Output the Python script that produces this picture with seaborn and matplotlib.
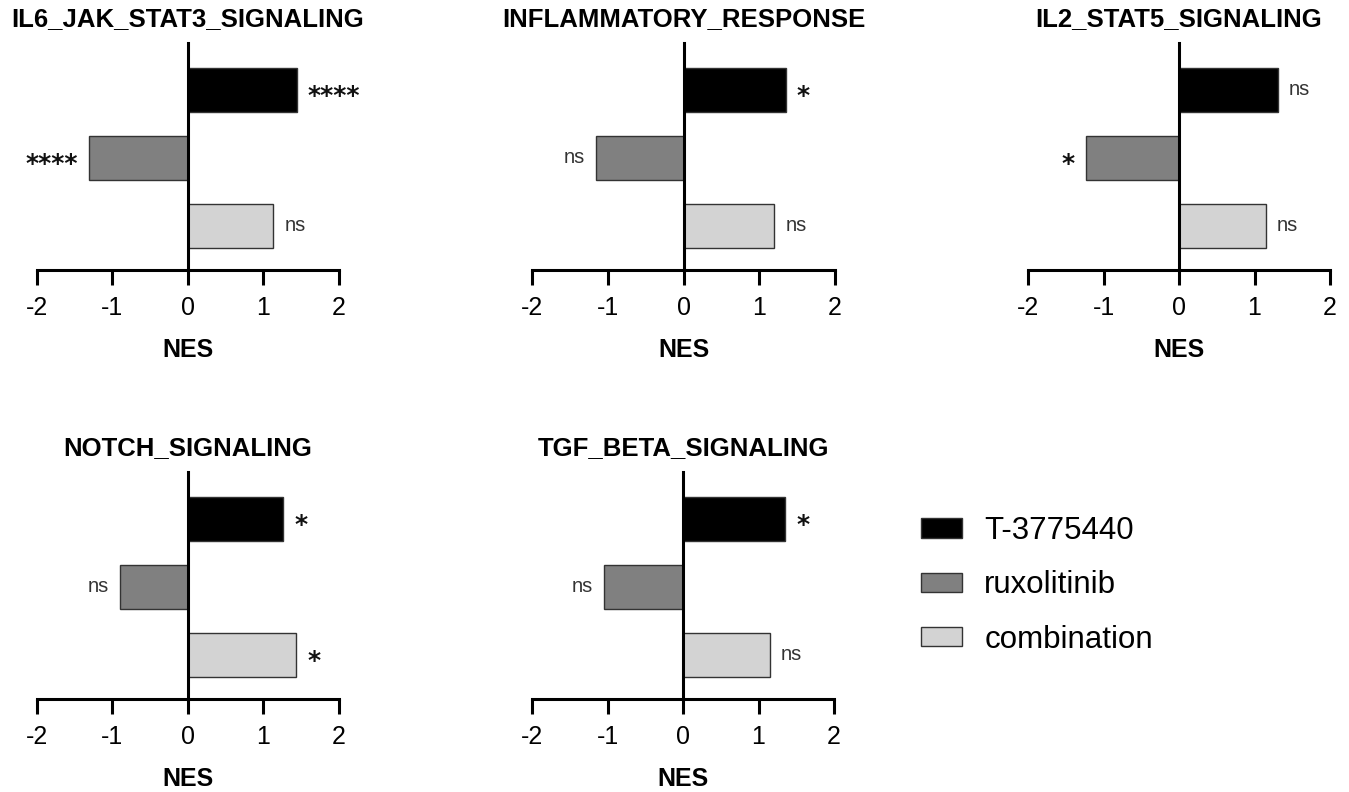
import numpy as np
import pandas as pd
import matplotlib
matplotlib.use("Agg")
import matplotlib.pyplot as plt
from matplotlib.patches import Patch
import seaborn as sns

# ---------------- data ----------------
pathways = ["IL6_JAK_STAT3_SIGNALING", "INFLAMMATORY_RESPONSE", "IL2_STAT5_SIGNALING",
            "NOTCH_SIGNALING", "TGF_BETA_SIGNALING"]
treatments = ["T-3775440", "ruxolitinib", "combination"]
nes_t377 = [1.44, 1.35, 1.31, 1.26, 1.35]
nes_ruxo = [-1.31, -1.16, -1.23, -0.90, -1.05]
nes_combo = [1.13, 1.20, 1.15, 1.43, 1.15]
sig_t377 = ["****", "*", "ns", "*", "*"]
sig_ruxo = ["****", "ns", "*", "ns", "ns"]
sig_combo = ["ns", "ns", "ns", "*", "ns"]
x_ticks = [-2, -1, 0, 1, 2]
colors = ["#000000", "#808080", "#d3d3d3"]

rows = []
for i, p in enumerate(pathways):
    for t, v, s in zip(treatments,
                       [nes_t377[i], nes_ruxo[i], nes_combo[i]],
                       [sig_t377[i], sig_ruxo[i], sig_combo[i]]):
        rows.append({"pathway": p, "treatment": t, "NES": v, "sig": s})
df = pd.DataFrame(rows)

# ---------------- style ----------------
sns.set_style("white")
plt.rcParams["font.family"] = ["Liberation Sans", "DejaVu Sans"]
plt.rcParams["text.color"] = "black"
plt.rcParams["axes.labelcolor"] = "black"
plt.rcParams["xtick.color"] = "black"
plt.rcParams["ytick.color"] = "black"

W, H = 1349, 792
fig = plt.figure(figsize=(W / 100, H / 100), dpi=100)

# axes boxes in pixels: (left, top, right, bottom)
boxes = [(37, 43, 339, 270), (532, 43, 835, 270), (1028, 43, 1330, 270),
         (37, 472, 339, 699), (532, 472, 834, 699)]

for p, (l, t, r, b) in zip(pathways, boxes):
    ax = fig.add_axes([l / W, 1 - b / H, (r - l) / W, (b - t) / H])
    sub = df[df["pathway"] == p]
    sns.barplot(data=sub, x="NES", y="treatment", hue="treatment", order=treatments,
                hue_order=treatments, palette=colors, orient="h", width=0.65,
                edgecolor="#333333", linewidth=1.0, legend=False, ax=ax)
    ax.set_xlim(-2, 2)
    ax.set_xticks(x_ticks)
    ax.set_xticklabels([str(v) for v in x_ticks])
    ax.set_ylim(2.65, -0.69)
    ax.set_yticks([])
    ax.set_ylabel("")
    for s in ["top", "right"]:
        ax.spines[s].set_visible(False)
    ax.spines["left"].set_position(("data", 0))
    ax.spines["left"].set_linewidth(2.2)
    ax.spines["left"].set_color("black")
    ax.spines["bottom"].set_linewidth(2.2)
    ax.spines["bottom"].set_color("black")
    ax.tick_params(axis="x", length=11, width=2.2, pad=8, labelsize=18, color="black",
                   labelcolor="black", direction="out", bottom=True)
    ax.set_xlabel("NES", fontsize=18, fontweight="bold", labelpad=13, color="black")
    ax.set_title(p, fontsize=18.5, fontweight="bold", pad=12, color="black")

    for i, row in enumerate(sub.itertuples()):
        v, s = row.NES, row.sig
        sign = 1 if v >= 0 else -1
        if s == "ns":
            ax.annotate(s, xy=(v, i), xytext=(sign * 8, 0), textcoords="offset points",
                        ha="left" if sign > 0 else "right", va="center",
                        fontsize=14.5, color="#333333")
        else:
            ax.annotate(s, xy=(v, i), xytext=(sign * 8, -4.5), textcoords="offset points",
                        ha="left" if sign > 0 else "right", va="center",
                        fontsize=18, fontweight="bold", color="#111111",
                        family="DejaVu Sans")

handles = [Patch(facecolor=c, edgecolor="#333333", linewidth=1.0) for c in colors]
fig.legend(handles, treatments, loc="center left", bbox_to_anchor=(0.662, 0.261),
           frameon=False, fontsize=22.5, handlelength=1.3, handleheight=0.58,
           handletextpad=0.72, labelspacing=0.78)

fig.savefig("out.png", dpi=100)
